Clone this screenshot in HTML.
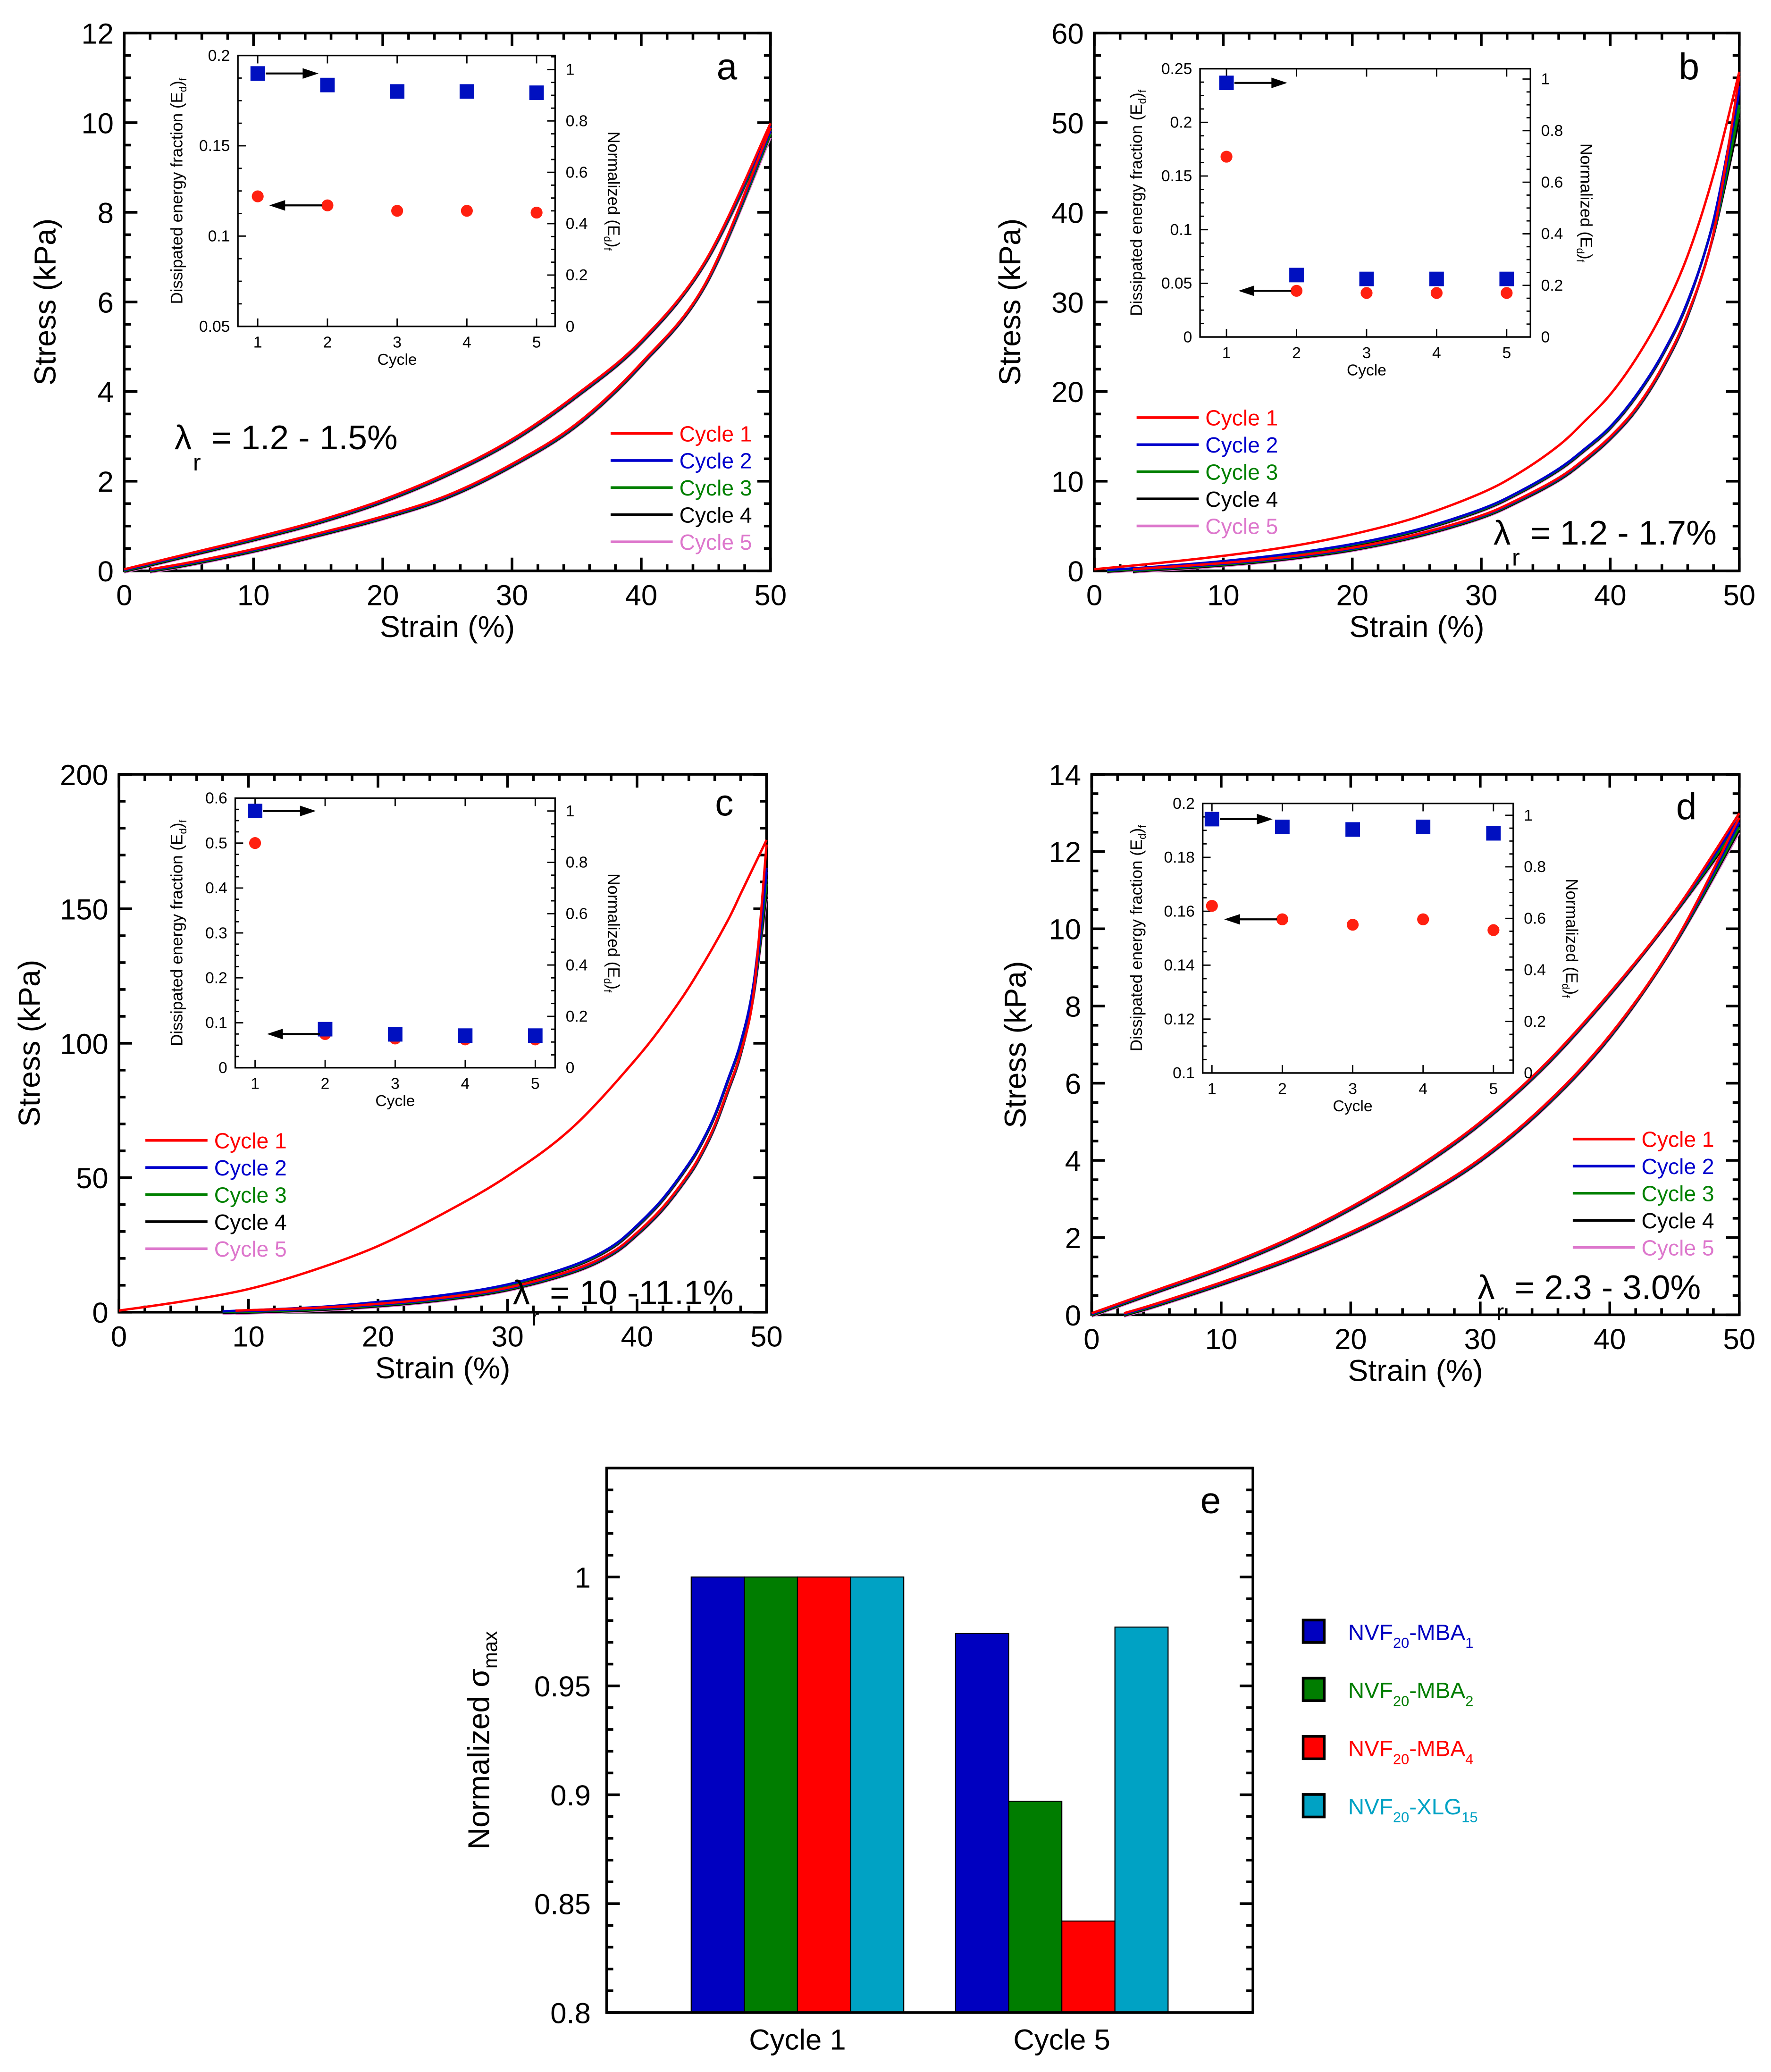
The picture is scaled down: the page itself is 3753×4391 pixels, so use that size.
<!DOCTYPE html>
<html><head><meta charset="utf-8"><style>
html,body{margin:0;padding:0;background:#fff;}
svg{display:block;font-family:"Liberation Sans",Arial,sans-serif;}
</style></head><body>
<svg id="fig" width="3753" height="4391" viewBox="0 0 1340 1568" preserveAspectRatio="none" xmlns="http://www.w3.org/2000/svg"></svg>
<script>
// ---------- DATA ----------
const cycleNames = ["Cycle 1","Cycle 2","Cycle 3","Cycle 4","Cycle 5"];
const cycleColors = ["#ff0000","#0000cc","#008000","#000000","#dd77cc"];
// panel a (strain %, stress kPa)
const aLoadX = [0,5,10,15,20,25,30,35,40,45,50];
const aLoadY = [0,0.35,0.7,1.08,1.55,2.15,2.9,3.9,5.1,6.9,9.9];
const aUnloadX = [2,5,10,15,20,25,30,35,40,45,50];
const aUnloadY = [0,0.15,0.45,0.8,1.18,1.65,2.35,3.25,4.6,6.4,9.8];
const aEnd = [9.95,9.9,9.85,9.85,9.8];
// panel b
const bLoad1X = [0,5,10,15,20,25,30,33,36,38,40,42,44,46,48,50];
const bLoad1Y = [0,0.7,1.5,2.5,3.9,5.8,8.5,10.8,13.8,16.5,19.5,23.5,28.5,35,44,55.5];
const bLoadX = [1,5,10,15,20,25,30,33,36,38,40,42,44,46,48,50];
const bLoadY = [0,0.4,1.0,1.8,2.9,4.5,6.8,8.8,11.3,13.5,16,19.5,24,30,39,53];
const bUnloadX = [3,5,10,15,20,25,30,33,36,38,40,42,44,46,48,50];
const bUnloadY = [0,0.2,0.7,1.4,2.4,3.9,6.0,7.9,10.2,12.3,14.8,18,22.5,28.5,37.5,52];
const bEnd = [55.5,54,52,51,51];
// panel c
const cLoad1X = [0,5,10,15,20,25,30,35,40,43,45,47,48,49,50];
const cLoad1Y = [0,3.5,8,15,24,36,50,68,94,113,128,145,155,165,175];
const cLoadX = [8,15,20,25,30,35,38,40,42,44,45,46,47,48,49,50];
const cLoadY = [0,1.5,3.5,6,10,17,24,32,42,55,63,73,86,100,122,165];
const cUnloadX = [9,15,20,25,30,35,38,40,42,44,45,46,47,48,49,50];
const cUnloadY = [0,1,2.5,4.8,8.5,15,21.5,29,38.5,51,59,69,82,96,118,160];
const cEnd = [175,165,161,158,156];
// panel d
const dLoadX = [0,5,10,15,20,25,30,35,40,45,50];
const dLoadY = [0,0.6,1.2,1.9,2.75,3.75,4.95,6.45,8.3,10.4,12.95];
const dUnloadX = [2.5,5,10,15,20,25,30,35,40,45,50];
const dUnloadY = [0,0.25,0.8,1.4,2.1,2.95,4.0,5.4,7.2,9.6,12.8];
const dEnd = [12.95,12.85,12.75,12.7,12.65];
// insets
const insetCycles = [1,2,3,4,5];
const aFrac = [0.122,0.117,0.114,0.114,0.113];
const aNorm = [0.985,0.94,0.915,0.915,0.91];
const bFrac = [0.168,0.043,0.041,0.041,0.041];
const bNorm = [0.985,0.24,0.225,0.225,0.225];
const cFrac = [0.5,0.075,0.065,0.063,0.063];
const cNorm = [1.0,0.15,0.13,0.125,0.125];
const dFrac = [0.162,0.157,0.155,0.157,0.153];
const dNorm = [0.985,0.955,0.945,0.955,0.93];
// panel e
const barGroups = ["Cycle 1","Cycle 5"];
const barSeries = ["NVF20-MBA1","NVF20-MBA2","NVF20-MBA4","NVF20-XLG15"];
const barValues1 = [1,1,1,1];
const barValues5 = [0.974,0.897,0.842,0.977];
const eTicks = ["0.8","0.85","0.9","0.95","1"];

// ---------- HELPERS ----------
const NS="http://www.w3.org/2000/svg";
const svg=document.getElementById('fig');
function mk(tag,attrs,parent){const e=document.createElementNS(NS,tag);for(const k in attrs)e.setAttribute(k,attrs[k]);(parent||svg).appendChild(e);return e;}
function txt(s,x,y,size,attrs,parent){const t=mk('text',Object.assign({x:x,y:y,'font-size':size},attrs||{}),parent);t.textContent=s;return t;}
function smooth(pts){
  let d="M"+pts[0][0].toFixed(2)+","+pts[0][1].toFixed(2);
  for(let i=0;i<pts.length-1;i++){
    const p0=pts[Math.max(0,i-1)],p1=pts[i],p2=pts[i+1],p3=pts[Math.min(pts.length-1,i+2)];
    const c1=[p1[0]+(p2[0]-p0[0])/6,p1[1]+(p2[1]-p0[1])/6];
    const c2=[p2[0]-(p3[0]-p1[0])/6,p2[1]-(p3[1]-p1[1])/6];
    d+=" C"+c1[0].toFixed(2)+","+c1[1].toFixed(2)+" "+c2[0].toFixed(2)+","+c2[1].toFixed(2)+" "+p2[0].toFixed(2)+","+p2[1].toFixed(2);
  }
  return d;
}
function axes(P){
  const g=mk('g',{});
  
  
  mk('rect',{x:P.x0,y:P.y0,width:P.x1-P.x0,height:P.y1-P.y0,fill:'none',stroke:'#000','stroke-width':2},g);
  const sx=v=>P.x0+(v-P.xmin)/(P.xmax-P.xmin)*(P.x1-P.x0);
  const sy=v=>P.y1-(v-P.ymin)/(P.ymax-P.ymin)*(P.y1-P.y0);
  for(let v=P.xmin;v<=P.xmax+1e-9;v+=P.xminor){
    const major=Math.abs(v/P.xmajor-Math.round(v/P.xmajor))<1e-6;const L=major?10:5;const x=sx(v);
    mk('line',{x1:x,x2:x,y1:P.y1,y2:P.y1-L,stroke:'#000','stroke-width':2},g);
    mk('line',{x1:x,x2:x,y1:P.y0,y2:P.y0+L,stroke:'#000','stroke-width':2},g);
    if(major){const t=txt(String(Math.round(v)),x,P.y1+26,22,{'text-anchor':'middle'},g);
      }
  }
  for(let v=P.ymin;v<=P.ymax+1e-9;v+=P.yminor){
    const major=Math.abs(v/P.ymajor-Math.round(v/P.ymajor))<1e-6;const L=major?10:5;const y=sy(v);
    mk('line',{x1:P.x0,x2:P.x0+L,y1:y,y2:y,stroke:'#000','stroke-width':2},g);
    mk('line',{x1:P.x1,x2:P.x1-L,y1:y,y2:y,stroke:'#000','stroke-width':2},g);
    if(major){const t=txt(String(Math.round(v)),P.x0-8,y+8,22,{'text-anchor':'end'},g);
      }
  }
  const xt=txt("Strain (%)",(P.x0+P.x1)/2,P.y1+50,23,{'text-anchor':'middle'},g);
  
  const yx=P.ytx,yy=(P.y0+P.y1)/2;
  const yt=txt("Stress (kPa)",yx,yy,23,{'text-anchor':'middle',transform:`rotate(-90 ${yx} ${yy})`},g);
  
  const lt=txt(P.letter,P.lx,P.ly,28,{'text-anchor':'middle'},g);
  
  return {sx,sy};
}
function drawCurve(P,S,xs,ys,color,name,dy){
  const pts=xs.map((x,i)=>[S.sx(x),S.sy(ys[i])+(dy||0)]);
  const p=mk('path',{d:smooth(pts),fill:'none',stroke:color,'stroke-width':1.8});
  
}
function legend(x,y){
  for(let i=0;i<5;i++){
    const yy=y+i*20.5;
    const g=mk('g',{});
    
    mk('line',{x1:x,x2:x+47,y1:yy,y2:yy,stroke:cycleColors[i],'stroke-width':2},g);
    txt(cycleNames[i],x+52,yy+6,16.5,{fill:cycleColors[i]},g);
  }
}
function lambda(x,y,label){
  const g=mk('g',{});
  
  txt("λ",x,y,26,{},g);txt("r",x+14,y+16,18,{},g);txt(label,x+28,y,26,{},g);
}
function inset(I,frac,norm){
  const g=mk('g',{});
  
  mk('rect',{x:I.x0,y:I.y0,width:I.x1-I.x0,height:I.y1-I.y0,fill:'#fff',stroke:'#000','stroke-width':1.2},g);
  const cx=c=>I.cx1+(c-1)/4*(I.cx5-I.cx1);
  const syl=v=>I.y1-(v-I.lmin)/(I.lmax-I.lmin)*(I.y1-I.y0);
  const syr=v=>I.y1-(v)/(I.rmax)*(I.y1-I.y0);
  insetCycles.forEach(c=>{const x=cx(c);
    mk('line',{x1:x,x2:x,y1:I.y1,y2:I.y1-6,stroke:'#000','stroke-width':1},g);
    mk('line',{x1:x,x2:x,y1:I.y0,y2:I.y0+6,stroke:'#000','stroke-width':1},g);
    txt(String(c),x,I.y1+16,12,{'text-anchor':'middle'},g);});
  txt("Cycle",(I.cx1+I.cx5)/2,I.y1+29,12,{'text-anchor':'middle'},g);
  const nl=Math.round((I.lmax-I.lmin)/I.lstep);
  for(let k=0;k<=nl*4;k++){const v=I.lmin+k*I.lstep/4;const y=syl(v);const M=k%4===0;
    mk('line',{x1:I.x0,x2:I.x0+(M?6:3),y1:y,y2:y,stroke:'#000','stroke-width':1},g);
    if(M)txt(I.lfmt(v),I.x0-6,y+4,12,{'text-anchor':'end'},g);}
  for(let k=0;k<=Math.floor(I.rmax/0.05+1e-6);k++){const v=k*0.05;const y=syr(v);const M=k%4===0;
    mk('line',{x1:I.x1,x2:I.x1-(M?6:3),y1:y,y2:y,stroke:'#000','stroke-width':1},g);
    if(M)txt(String(+v.toFixed(1)),I.x1+8,y+4,12,{},g);}
  const lx=I.x0-I.ltx,ly=(I.y0+I.y1)/2;
  const lt=mk('text',{x:lx,y:ly,'font-size':12.5,'text-anchor':'middle',transform:`rotate(-90 ${lx} ${ly})`},g);
  lt.innerHTML='Dissipated energy fraction (E<tspan font-size="8" dy="3">d</tspan><tspan dy="-3">)</tspan><tspan font-size="8" dy="3">f</tspan>';
  const rx=I.x1+I.rtx,ry=(I.y0+I.y1)/2;
  const rt=mk('text',{x:rx,y:ry,'font-size':12.5,'text-anchor':'middle',transform:`rotate(90 ${rx} ${ry})`},g);
  rt.innerHTML='Normalized (E<tspan font-size="8" dy="3">d</tspan><tspan dy="-3">)</tspan><tspan font-size="8" dy="3">f</tspan>';
  frac.forEach((v,i)=>{const c=mk('circle',{cx:cx(insetCycles[i]),cy:syl(v),r:4.5,fill:'#ff2010'},g);
    });
  norm.forEach((v,i)=>{const s=mk('rect',{x:cx(insetCycles[i])-5.5,y:syr(v)-5.5,width:11,height:11,fill:'#0010c0'},g);
    });
  const ya=syr(norm[0]),x1=cx(1)+6;
  mk('line',{x1:x1,x2:x1+30,y1:ya,y2:ya,stroke:'#000','stroke-width':1.5},g);
  mk('polygon',{points:`${x1+40},${ya} ${x1+28},${ya-4} ${x1+28},${ya+4}`,fill:'#000'},g);
  const yb=syl(frac[1]),x2=cx(2)-4;
  mk('line',{x1:x2,x2:x2-30,y1:yb,y2:yb,stroke:'#000','stroke-width':1.5},g);
  mk('polygon',{points:`${x2-40},${yb} ${x2-28},${yb-4} ${x2-28},${yb+4}`,fill:'#000'},g);
}
function stressPanel(P,cyc1Load,otherLoad,unload,ends){
  const S=axes(P);
  for(let i=4;i>=0;i--){
    const L=(i===0)?cyc1Load:otherLoad;
    const lx=L[0].slice(),ly=L[1].slice();ly[ly.length-1]=ends[i];
    drawCurve(P,S,lx,ly,cycleColors[i],'loading-curve-cycle-'+(i+1),(i-2)*0.6);
    const ux=unload[0].slice(),uy=unload[1].slice();uy[uy.length-1]=ends[i]-0.5*(P.ymax/60);
    drawCurve(P,S,ux,uy,cycleColors[i],'unloading-curve-cycle-'+(i+1),(i-2)*0.6);
  }
  return S;
}
const f2=v=>String(+v.toFixed(2));

// ---------- PANEL A ----------
const PA={name:'panel-a',x0:94,x1:583,y0:25,y1:432,xmin:0,xmax:50,xmajor:10,xminor:2,ymin:0,ymax:12,ymajor:2,yminor:0.5,ytx:42,letter:'a',lx:550,ly:60};
stressPanel(PA,[aLoadX,aLoadY],[aLoadX,aLoadY],[aUnloadX,aUnloadY],aEnd);
inset({name:'inset-a',x0:180,x1:420,y0:42,y1:247,cx1:195,cx5:406,lmin:0.05,lmax:0.2,lstep:0.05,lfmt:f2,rmax:1.055,ltx:42,rtx:40},aFrac,aNorm);
legend(462,328);
lambda(132,340,"= 1.2 - 1.5%");

// ---------- PANEL B ----------
const PB={name:'panel-b',x0:828,x1:1316,y0:25,y1:432,xmin:0,xmax:50,xmajor:10,xminor:2,ymin:0,ymax:60,ymajor:10,yminor:2.5,ytx:772,letter:'b',lx:1278,ly:60};
stressPanel(PB,[bLoad1X,bLoad1Y],[bLoadX,bLoadY],[bUnloadX,bUnloadY],bEnd);
inset({name:'inset-b',x0:908,x1:1158,y0:52,y1:255,cx1:928,cx5:1140,lmin:0,lmax:0.25,lstep:0.05,lfmt:f2,rmax:1.04,ltx:44,rtx:38},bFrac,bNorm);
legend(860,316);
lambda(1130,412,"= 1.2 - 1.7%");

// ---------- PANEL C ----------
const PC={name:'panel-c',x0:90,x1:580,y0:586,y1:993,xmin:0,xmax:50,xmajor:10,xminor:2,ymin:0,ymax:200,ymajor:50,yminor:10,ytx:30,letter:'c',lx:548,ly:617};
stressPanel(PC,[cLoad1X,cLoad1Y],[cLoadX,cLoadY],[cUnloadX,cUnloadY],cEnd);
inset({name:'inset-c',x0:178,x1:420,y0:604,y1:808,cx1:193,cx5:405,lmin:0,lmax:0.6,lstep:0.1,lfmt:f2,rmax:1.05,ltx:40,rtx:40},cFrac,cNorm);
legend(110,863);
lambda(388,987,"= 10 -11.1%");

// ---------- PANEL D ----------
const PD={name:'panel-d',x0:826,x1:1316,y0:586,y1:995,xmin:0,xmax:50,xmajor:10,xminor:2,ymin:0,ymax:14,ymajor:2,yminor:0.5,ytx:776,letter:'d',lx:1276,ly:620};
stressPanel(PD,[dLoadX,dLoadY],[dLoadX,dLoadY],[dUnloadX,dUnloadY],dEnd);
inset({name:'inset-d',x0:910,x1:1145,y0:608,y1:812,cx1:917,cx5:1130,lmin:0.1,lmax:0.2,lstep:0.02,lfmt:f2,rmax:1.046,ltx:46,rtx:40},dFrac,dNorm);
legend(1190,862);
lambda(1118,983,"= 2.3 - 3.0%");

// ---------- PANEL E ----------
(function(){
  const x0=459,x1=948,y0=1111,y1=1523,ymin=0.8,ymax=1.05;
  const sy=v=>y1-(v-ymin)/(ymax-ymin)*(y1-y0);
  const barColors=["#0000c0","#007d00","#ff0000","#00a2c4"];
  const groupStart=[523,723],bw=40.2;
  const vals=[barValues1,barValues5];
  barGroups.forEach((gname,gi)=>{
    vals[gi].forEach((v,si)=>{
      const r=mk('rect',{x:groupStart[gi]+si*bw,y:sy(v),width:bw,height:y1-sy(v),fill:barColors[si],stroke:'#000','stroke-width':0.8});
      
      
    });
    const t=txt(gname,groupStart[gi]+2*bw,y1+28,22,{'text-anchor':'middle'});
    
  });
  const g=mk('g',{});
  
  mk('rect',{x:x0,y:y0,width:x1-x0,height:y1-y0,fill:'none',stroke:'#000','stroke-width':2},g);
  for(let k=0;k<=25;k++){const v=ymin+k*0.01;const y=sy(v);const M=k%5===0;
    mk('line',{x1:x0,x2:x0+(M?10:5),y1:y,y2:y,stroke:'#000','stroke-width':2},g);
    mk('line',{x1:x1,x2:x1-(M?10:5),y1:y,y2:y,stroke:'#000','stroke-width':2},g);}
  eTicks.forEach(s=>{const t=txt(s,x0-12,sy(parseFloat(s))+8,22,{'text-anchor':'end'},g);
    });
  const yt=mk('text',{x:370,y:1317,'font-size':23,'text-anchor':'middle',transform:'rotate(-90 370 1317)'},g);
  yt.innerHTML='Normalized σ<tspan font-size="15" dy="6">max</tspan>';
  
  const lt=txt('e',916,1145,28,{'text-anchor':'middle'},g);
  
  const subs=[["-MBA","1"],["-MBA","2"],["-MBA","4"],["-XLG","15"]];
  barSeries.forEach((s,i)=>{
    const yy=1226+i*44;
    const lg=mk('g',{});
    
    mk('rect',{x:986,y:yy,width:16,height:17,fill:barColors[i],stroke:'#000','stroke-width':2},lg);
    const t=mk('text',{x:1020,y:yy+15,'font-size':17,fill:barColors[i]},lg);
    t.innerHTML='NVF<tspan font-size="11" dy="6">20</tspan><tspan dy="-6">'+subs[i][0]+'</tspan><tspan font-size="11" dy="6">'+subs[i][1]+'</tspan>';
  });
})();
</script>
</body></html>
